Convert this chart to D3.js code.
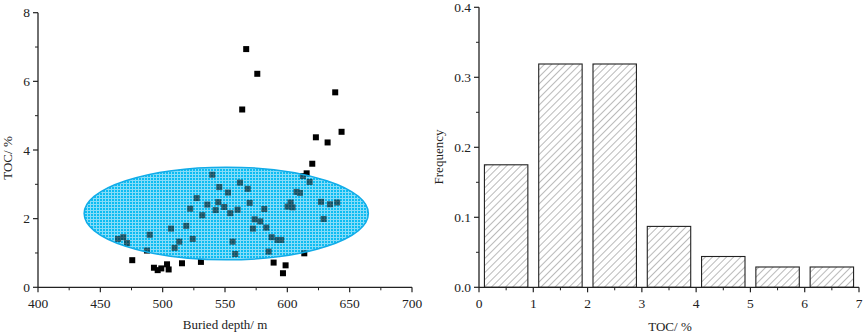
<!DOCTYPE html>
<html>
<head>
<meta charset="utf-8">
<script src="https://cdn.jsdelivr.net/npm/d3@7"></script>
<style>
  body { margin: 0; background: #fff; }
  svg { display: block; font-family: "Liberation Serif", "Times New Roman", serif; }
</style>
</head>
<body>
<div id="chart"></div>
<script>
// scatter data: buried depth (m) vs TOC (%)
const depth = [567.0, 575.9, 563.8, 638.4, 643.5, 622.9, 632.3, 620.0, 615.5, 612.5,
  617.9, 607.4, 610.1, 627.0, 634.2, 640.0, 629.1, 613.6, 600.2, 602.6,
  604.2, 589.0, 598.6, 596.5, 585.0, 587.4, 592.2, 595.1, 583.1, 573.8,
  578.3, 572.4, 581.5, 569.8, 568.2, 562.0, 560.1, 554.2, 552.4, 549.4,
  545.4, 544.6, 542.5, 539.8, 535.8, 531.8, 556.1, 558.2, 530.7, 527.3,
  522.1, 518.9, 506.7, 513.3, 509.6, 524.1, 489.6, 487.4, 464.2, 468.4,
  471.4, 475.6, 493.0, 496.0, 498.9, 503.5, 504.8, 515.5];
const toc = [6.94, 6.22, 5.18, 5.68, 4.53, 4.37, 4.22, 3.60, 3.32, 3.24,
  3.07, 2.78, 2.75, 2.49, 2.42, 2.47, 1.99, 0.99, 2.35, 2.47,
  2.33, 0.72, 0.64, 0.41, 1.04, 1.46, 1.38, 1.38, 1.74, 1.98,
  1.92, 1.71, 2.28, 2.46, 2.87, 3.05, 2.26, 2.16, 2.76, 2.34,
  2.92, 2.48, 2.25, 3.28, 2.41, 2.10, 1.33, 0.97, 0.74, 2.60,
  2.29, 1.79, 1.71, 1.33, 1.15, 1.41, 1.53, 1.07, 1.41, 1.46,
  1.29, 0.79, 0.57, 0.50, 0.55, 0.67, 0.52, 0.70];
// highlighted zone (data units): centre depth, centre TOC, half-width, half-height
const zone = { cx: 551, cy: 2.15, rx: 114, ry: 1.35 };

// histogram data
const binStart = [0, 1, 2, 3, 4, 5, 6];
const frequency = [0.175, 0.319, 0.319, 0.087, 0.044, 0.029, 0.029];

const xTicksL = [400, 450, 500, 550, 600, 650, 700];
const yTicksL = [0, 2, 4, 6, 8];
const xTicksR = [0, 1, 2, 3, 4, 5, 6, 7];
const yTicksR = [0, 0.1, 0.2, 0.3, 0.4];

const W = 865, H = 336;
const svg = d3.select("#chart").append("svg").attr("width", W).attr("height", H);

const defs = svg.append("defs");
// hatch pattern for bars
const hatch = defs.append("pattern")
  .attr("id", "hatch").attr("patternUnits", "userSpaceOnUse")
  .attr("width", 5).attr("height", 5)
  .attr("patternTransform", "rotate(45)");
hatch.append("line").attr("x1", 0).attr("y1", 0).attr("x2", 0).attr("y2", 5)
  .attr("stroke", "#666").attr("stroke-width", 0.9);
// grid texture for ellipse
const grid = defs.append("pattern")
  .attr("id", "grid").attr("patternUnits", "userSpaceOnUse")
  .attr("width", 3).attr("height", 3);
grid.append("rect").attr("width", 3).attr("height", 3).attr("fill", "#0cbcf2");
grid.append("rect").attr("width", 3).attr("height", 1).attr("fill", "#86dcf8");
grid.append("rect").attr("width", 1).attr("height", 3).attr("fill", "#86dcf8");

function drawAxes(g, x, y, xt, yt, xMinor, yMinor, yFmt) {
  const ax = "#222";
  const [x0, x1] = x.range();
  const [y0, y1] = y.range();
  // minor ticks
  g.selectAll(".xm").data(xMinor).join("line")
    .attr("x1", d => x(d)).attr("x2", d => x(d))
    .attr("y1", y0).attr("y2", y0 + 3).attr("stroke", ax);
  g.selectAll(".ym").data(yMinor).join("line")
    .attr("y1", d => y(d)).attr("y2", d => y(d))
    .attr("x1", x0).attr("x2", x0 - 3).attr("stroke", ax);
  // major ticks
  g.selectAll(".xM").data(xt).join("line")
    .attr("x1", d => x(d)).attr("x2", d => x(d))
    .attr("y1", y0).attr("y2", y0 + 5).attr("stroke", ax).attr("stroke-width", 1.2);
  g.selectAll(".yM").data(yt).join("line")
    .attr("y1", d => y(d)).attr("y2", d => y(d))
    .attr("x1", x0).attr("x2", x0 - 5).attr("stroke", ax).attr("stroke-width", 1.2);
  // axis lines
  g.append("line").attr("x1", x0).attr("x2", x1).attr("y1", y0).attr("y2", y0)
    .attr("stroke", ax).attr("stroke-width", 1.3);
  g.append("line").attr("x1", x0).attr("x2", x0).attr("y1", y0).attr("y2", y1)
    .attr("stroke", ax).attr("stroke-width", 1.3);
  // labels
  g.selectAll(".xl").data(xt).join("text")
    .attr("x", d => x(d)).attr("y", y0 + 21)
    .attr("text-anchor", "middle").attr("font-size", 13.5).attr("fill", "#222")
    .text(d => d);
  g.selectAll(".yl").data(yt).join("text")
    .attr("x", x0 - 8).attr("y", d => y(d) + 4.5)
    .attr("text-anchor", "end").attr("font-size", 13.5).attr("fill", "#222")
    .text(yFmt);
}

// ---------- left: scatter ----------
const xL = d3.scaleLinear().domain([400, 700]).range([38, 412]);
const yL = d3.scaleLinear().domain([0, 8]).range([287.3, 12.7]);
const gL = svg.append("g");

const ell = sel => sel
  .attr("cx", xL(zone.cx)).attr("cy", yL(zone.cy))
  .attr("rx", xL(zone.cx + zone.rx) - xL(zone.cx))
  .attr("ry", yL(zone.cy) - yL(zone.cy + zone.ry));

// opaque base of the zone, then the points, then a translucent veil on top
gL.append("ellipse").call(ell).attr("fill", "url(#grid)");

const pts = depth.map((d, i) => ({ d: d, v: toc[i] }));
gL.selectAll(".pt").data(pts).join("rect")
  .attr("x", p => xL(p.d) - 3).attr("y", p => yL(p.v) - 3)
  .attr("width", 6).attr("height", 6).attr("fill", "#000");

gL.append("ellipse").call(ell)
  .attr("fill", "url(#grid)").attr("fill-opacity", 0.45)
  .attr("stroke", "#12ace8").attr("stroke-width", 1.5);

drawAxes(gL, xL, yL, xTicksL, yTicksL,
  d3.range(425, 700, 50), d3.range(1, 8, 2), d => d);

gL.append("text").attr("x", 225).attr("y", 329)
  .attr("text-anchor", "middle").attr("font-size", 13).attr("fill", "#222")
  .text("Buried depth/ m");
gL.append("text").attr("transform", "translate(12,158) rotate(-90)")
  .attr("text-anchor", "middle").attr("font-size", 13).attr("fill", "#222")
  .text("TOC/ %");

// ---------- right: histogram ----------
const xR = d3.scaleLinear().domain([0, 7]).range([479, 859]);
const yR = d3.scaleLinear().domain([0, 0.4]).range([287.3, 7.3]);
const gR = svg.append("g");

gR.selectAll(".bar").data(binStart).join("rect")
  .attr("x", (b) => xR(b + 0.1))
  .attr("y", (b, i) => yR(frequency[i]))
  .attr("width", xR(0.9) - xR(0.1))
  .attr("height", (b, i) => yR(0) - yR(frequency[i]))
  .attr("fill", "url(#hatch)").attr("stroke", "#222").attr("stroke-width", 1.1);

drawAxes(gR, xR, yR, xTicksR, yTicksR,
  d3.range(0.5, 7, 1), d3.range(0.05, 0.4, 0.1), d => d.toFixed(1));

gR.append("text").attr("x", 670).attr("y", 331)
  .attr("text-anchor", "middle").attr("font-size", 13).attr("fill", "#222")
  .text("TOC/ %");
gR.append("text").attr("transform", "translate(443,157) rotate(-90)")
  .attr("text-anchor", "middle").attr("font-size", 13).attr("fill", "#222")
  .text("Frequency");
</script>
</body>
</html>
